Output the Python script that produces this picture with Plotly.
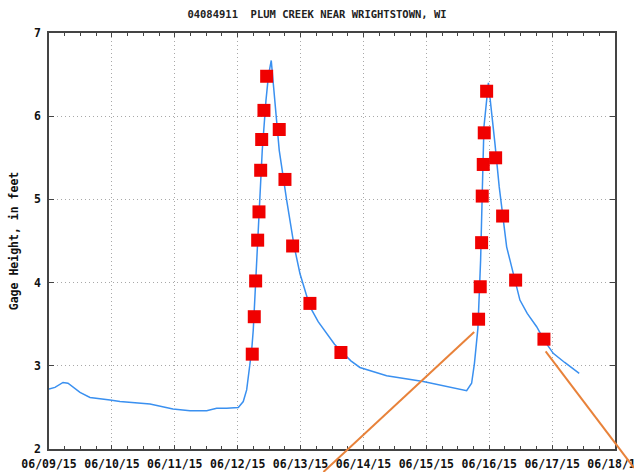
import pandas as pd
import plotly.graph_objects as go

title_text = "04084911  PLUM CREEK NEAR WRIGHTSTOWN, WI"
y_title = "Gage Height, in feet"
start = pd.Timestamp("2015-06-09 00:00")
end = pd.Timestamp("2015-06-18 00:00")
y_min, y_max = 2, 7

# continuous gage height (days after 06/09/15 00:00, feet)
gage_day = [0.000, 0.095, 0.223, 0.302, 0.493, 0.652, 0.970, 1.129, 1.606, 1.971,
            2.242, 2.507, 2.666, 2.825, 3.010, 3.089, 3.143, 3.184, 3.223, 3.248,
            3.283, 3.343, 3.391, 3.450, 3.490, 3.534, 3.556, 3.593, 3.661, 3.779,
            3.900, 3.990, 4.070, 4.149, 4.280, 4.415, 4.540, 4.679, 4.800, 4.944,
            5.150, 5.369, 5.951, 6.375, 6.641,
            6.720, 6.765, 6.820, 6.863, 6.889, 6.916, 6.987, 7.038, 7.091, 7.159,
            7.277, 7.409, 7.488, 7.604, 7.754, 7.880, 8.018, 8.200, 8.431]
gage_ft = [2.72, 2.74, 2.80, 2.79, 2.68, 2.62, 2.59, 2.57, 2.54, 2.48,
           2.46, 2.46, 2.49, 2.49, 2.50, 2.57, 2.71, 2.95, 3.19, 3.43,
           4.00, 4.99, 5.59, 6.19, 6.49, 6.67, 6.49, 6.19, 5.59, 4.99,
           4.43, 4.11, 3.90, 3.71, 3.53, 3.39, 3.26, 3.15, 3.06, 2.98,
           2.93, 2.88, 2.81, 2.74, 2.70,
           2.79, 3.03, 3.45, 4.27, 5.07, 5.87, 6.40, 6.07, 5.67, 5.15,
           4.43, 4.03, 3.79, 3.63, 3.47, 3.30, 3.15, 3.04, 2.91]

# field measurements (red squares)
meas_day = [3.232, 3.264, 3.286, 3.318, 3.339, 3.366, 3.382, 3.418, 3.461,
            3.661, 3.752, 3.874, 4.149, 4.642,
            6.831, 6.857, 6.879, 6.889, 6.905, 6.921, 6.959,
            7.102, 7.213, 7.420, 7.870]
meas_ft = [3.14, 3.59, 4.02, 4.51, 4.85, 5.35, 5.72, 6.07, 6.48,
           5.84, 5.24, 4.44, 3.75, 3.16,
           3.56, 3.95, 4.48, 5.04, 5.42, 5.80, 6.30,
           5.50, 4.80, 4.03, 3.32]

# orange hand-drawn lines (days, feet)
orange1_day = [4.364, 6.761]
orange1_ft = [1.724, 3.405]
orange2_day = [7.897, 9.301]
orange2_ft = [3.173, 1.774]

def to_time(days):
    return [start + pd.to_timedelta(d, unit="D") for d in days]

font_family = "DejaVu Sans Mono"
tick_font = dict(family=font_family, size=11.5, color="#111", weight="bold")

fig = go.Figure()
fig.add_trace(go.Scatter(x=to_time(gage_day), y=gage_ft, mode="lines",
                         line=dict(color="#3a90f0", width=1.5),
                         hoverinfo="skip", showlegend=False))
fig.add_trace(go.Scatter(x=to_time(meas_day), y=meas_ft, mode="markers",
                         marker=dict(symbol="square", size=13, color="#f00000",
                                     line=dict(width=0)),
                         showlegend=False))

span_days = (end - start) / pd.Timedelta(days=1)
for xs, ys in [(orange1_day, orange1_ft), (orange2_day, orange2_ft)]:
    fig.add_shape(type="line", xref="paper", yref="paper",
                  x0=xs[0] / span_days, x1=xs[1] / span_days,
                  y0=(ys[0] - y_min) / (y_max - y_min),
                  y1=(ys[1] - y_min) / (y_max - y_min),
                  line=dict(color="#e8823a", width=2), layer="above")

fig.update_layout(
    width=634, height=472,
    margin=dict(l=49, r=19, t=33, b=23, autoexpand=False),
    paper_bgcolor="white", plot_bgcolor="white",
    title=dict(text=title_text, x=0.5, xref="container", xanchor="center",
               y=1 - 14 / 472, yref="container", yanchor="middle",
               font=dict(family=font_family, size=10.5, color="#222", weight="bold")),
    font=tick_font,
)
fig.update_xaxes(
    range=[start, end], type="date", automargin=False,
    tickformat="%m/%d/%y", dtick=86400000, tick0=start,
    ticks="inside", ticklen=4, tickcolor="#444", tickwidth=1,
    minor=dict(dtick=6 * 3600000, ticks="inside", ticklen=3, tickcolor="#444",
               tickwidth=1, showgrid=False),
    showline=True, linecolor="#444", linewidth=1.5, mirror="allticks",
    showgrid=True, gridcolor="#a8a8a8", griddash="1px,3px", gridwidth=1,
    tickfont=tick_font, ticklabeloverflow="allow", ticklabelstandoff=3,
    zeroline=False,
)
fig.update_yaxes(
    range=[y_min, y_max], dtick=1, automargin=False,
    ticks="inside", ticklen=5, tickcolor="#444", tickwidth=1,
    showline=True, linecolor="#444", linewidth=1.5, mirror="allticks",
    showgrid=True, gridcolor="#a8a8a8", griddash="1px,3px", gridwidth=1,
    tickfont=tick_font, ticklabelstandoff=4,
    title=dict(text=y_title, standoff=13,
               font=dict(family=font_family, size=11.5, color="#111", weight="bold")),
    zeroline=False,
)

fig.write_html("out.html", config={"displayModeBar": False},
               post_script="document.body.style.margin='0';")
